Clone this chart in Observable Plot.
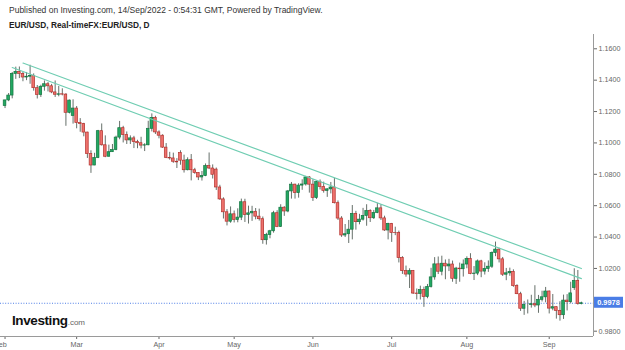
<!DOCTYPE html>
<html>
<head>
<meta charset="utf-8">
<script src="https://cdn.jsdelivr.net/npm/d3@7"></script>
<script src="https://cdn.jsdelivr.net/npm/@observablehq/plot@0.6"></script>
<style>
  body { margin: 0; background: #fff; font-family: "Liberation Sans", Arial, sans-serif; }
  #wrap { position: relative; width: 625px; height: 350px; overflow: hidden; background: #fff; }
  #pub { position: absolute; left: 9px; top: 6px; font-size: 8.5px; line-height: 1; color: #333; white-space: nowrap; }
  #sym { position: absolute; left: 9px; top: 21px; font-size: 8.3px; line-height: 1; font-weight: bold; color: #222; white-space: nowrap; }
  #chart { position: absolute; left: 0; top: 34px; }
  #logo { position: absolute; left: 12px; top: 312px; line-height: 1; white-space: nowrap; }
  #logo .brand { font-size: 13.5px; font-weight: bold; color: #111; letter-spacing: -0.4px; }
  #logo .dom { font-size: 8px; color: #666; }
</style>
</head>
<body>
<div id="wrap">
  <div id="pub">Published on Investing.com, 14/Sep/2022 - 0:54:31 GMT, Powered by TradingView.</div>
  <div id="sym">EUR/USD, Real-timeFX:EUR/USD, D</div>
  <div id="chart"></div>
  <div id="logo"><span class="brand">Investing</span><span class="dom">.com</span></div>
</div>
<script>
// Daily EUR/USD bars, 1 Feb 2022 – 14 Sep 2022 (weekdays only)
const opens = [
  // Feb
  1.1235,1.1271,1.1302,1.1440,1.1453,1.1440,1.1417,1.1422,1.1427,1.1349,1.1306,1.1358,1.1374,1.1361,1.1322,1.1307,1.1310,1.1308,1.1192,1.1172,
  // Mar
  1.1219,1.1127,1.1120,1.1066,1.0929,1.0856,1.0904,1.1075,1.0985,1.0912,1.0941,1.0955,1.1034,1.1094,1.1050,1.1016,1.1029,1.1005,1.0998,1.0983,1.0985,1.1090,1.1159,
  // Apr
  1.1067,1.1046,1.0970,1.0905,1.0901,1.0880,1.0935,1.0887,1.0826,1.0890,1.0826,1.0808,1.0780,1.0789,1.0852,1.0837,1.0830,1.0716,1.0640,1.0558,1.0498,
  // May
  1.0545,1.0509,1.0524,1.0622,1.0541,1.0551,1.0561,1.0530,1.0514,1.0380,1.0413,1.0437,1.0552,1.0465,1.0587,1.0563,1.0691,1.0734,1.0680,1.0728,1.0735,1.0780,
  // Jun
  1.0734,1.0649,1.0751,1.0719,1.0694,1.0704,1.0716,1.0616,1.0518,1.0410,1.0418,1.0447,1.0548,1.0495,1.0511,1.0535,1.0566,1.0520,1.0554,1.0583,1.0519,1.0442,
  // Jul
  1.0484,1.0426,1.0425,1.0266,1.0183,1.0161,1.0183,1.0040,1.0037,1.0062,1.0018,1.0082,1.0143,1.0226,1.0179,1.0230,1.0213,1.0225,1.0134,1.0199,1.0195,
  // Aug
  1.0225,1.0260,1.0165,1.0167,1.0245,1.0180,1.0197,1.0211,1.0298,1.0320,1.0258,1.0160,1.0169,1.0178,1.0088,1.0036,0.9943,0.9967,0.9967,0.9972,0.9964,1.0000,1.0016,
  // Sep
  1.0053,0.9944,0.9953,0.9929,0.9902,0.9995,0.9985,1.0075,1.0121,0.9973
];
const highs = [
  1.1272,1.1315,1.1449,1.1483,1.1484,1.1449,1.1449,1.1495,1.1440,1.1366,1.1368,1.1395,1.1385,1.1373,1.1395,1.1360,1.1345,1.1314,1.1273,1.1275,
  1.1232,1.1155,1.1125,1.1068,1.0950,1.0934,1.1080,1.1121,1.1045,1.0986,1.0990,1.1043,1.1137,1.1106,1.1070,1.1045,1.1042,1.1017,1.1036,1.0995,1.1138,1.1185,1.1170,
  1.1077,1.1052,1.0996,1.0940,1.0935,1.0900,1.0950,1.0922,1.0905,1.0926,1.0838,1.0809,1.0818,1.0866,1.0936,1.0860,1.0840,1.0730,1.0650,1.0575,1.0592,
  1.0566,1.0580,1.0642,1.0641,1.0597,1.0596,1.0582,1.0578,1.0528,1.0424,1.0443,1.0564,1.0568,1.0606,1.0594,1.0697,1.0748,1.0737,1.0740,1.0765,1.0787,1.0786,
  1.0765,1.0755,1.0764,1.0750,1.0708,1.0748,1.0774,1.0630,1.0530,1.0480,1.0506,1.0601,1.0564,1.0545,1.0583,1.0606,1.0574,1.0570,1.0615,1.0606,1.0533,1.0488,
  1.0487,1.0463,1.0438,1.0275,1.0215,1.0198,1.0187,1.0069,1.0087,1.0081,1.0098,1.0201,1.0269,1.0273,1.0278,1.0254,1.0258,1.0247,1.0207,1.0234,1.0254,
  1.0274,1.0294,1.0212,1.0254,1.0252,1.0236,1.0248,1.0305,1.0368,1.0329,1.0270,1.0200,1.0202,1.0191,1.0096,1.0048,0.9990,0.9999,1.0029,1.0090,1.0028,1.0055,1.0079,
  1.0056,1.0034,0.9955,0.9988,1.0030,1.0033,1.0112,1.0198,1.0187,0.9985
];
const lows = [
  1.1219,1.1263,1.1281,1.1405,1.1410,1.1390,1.1397,1.1374,1.1330,1.1280,1.1290,1.1330,1.1325,1.1314,1.1290,1.1294,1.1300,1.1106,1.1185,1.1120,
  1.1090,1.1068,1.1039,1.0901,1.0806,1.0855,1.0900,1.0980,1.0906,1.0910,1.0940,1.0950,1.1020,1.1000,1.0990,1.0990,1.0964,1.0963,1.0962,1.0945,1.0982,1.1070,1.1054,
  1.1026,1.0965,1.0900,1.0890,1.0870,1.0837,1.0858,1.0808,1.0822,1.0758,1.0800,1.0760,1.0757,1.0785,1.0830,1.0770,1.0697,1.0634,1.0515,1.0471,1.0488,
  1.0490,1.0491,1.0505,1.0493,1.0483,1.0500,1.0510,1.0502,1.0354,1.0349,1.0389,1.0425,1.0460,1.0461,1.0532,1.0555,1.0642,1.0642,1.0648,1.0698,1.0725,1.0680,
  1.0627,1.0640,1.0700,1.0680,1.0653,1.0675,1.0611,1.0506,1.0398,1.0397,1.0359,1.0382,1.0444,1.0478,1.0502,1.0469,1.0493,1.0512,1.0549,1.0506,1.0436,1.0382,
  1.0366,1.0409,1.0235,1.0162,1.0144,1.0072,1.0034,0.9999,0.9999,0.9952,1.0007,1.0075,1.0125,1.0161,1.0153,1.0128,1.0180,1.0112,1.0098,1.0112,1.0145,
  1.0198,1.0160,1.0123,1.0154,1.0141,1.0158,1.0175,1.0200,1.0275,1.0235,1.0149,1.0122,1.0150,1.0080,1.0033,0.9926,0.9901,0.9910,0.9947,0.9950,0.9914,0.9986,0.9981,
  0.9910,0.9930,0.9877,0.9864,0.9875,0.9929,0.9975,1.0060,0.9966,0.9968
];
const closes = [
  1.1271,1.1302,1.1440,1.1453,1.1440,1.1417,1.1422,1.1427,1.1349,1.1306,1.1358,1.1374,1.1361,1.1322,1.1307,1.1310,1.1308,1.1192,1.1270,1.1219,
  1.1127,1.1120,1.1066,1.0929,1.0856,1.0904,1.1075,1.0985,1.0912,1.0941,1.0955,1.1034,1.1094,1.1050,1.1016,1.1029,1.1005,1.0998,1.0983,1.0985,1.1090,1.1159,1.1067,
  1.1046,1.0970,1.0905,1.0901,1.0880,1.0876,1.0887,1.0826,1.0890,1.0826,1.0808,1.0780,1.0789,1.0852,1.0837,1.0797,1.0716,1.0640,1.0558,1.0498,1.0545,
  1.0509,1.0524,1.0622,1.0541,1.0551,1.0561,1.0530,1.0514,1.0380,1.0413,1.0437,1.0552,1.0465,1.0587,1.0563,1.0691,1.0734,1.0680,1.0728,1.0735,1.0780,1.0734,
  1.0649,1.0751,1.0719,1.0694,1.0704,1.0716,1.0616,1.0518,1.0410,1.0418,1.0447,1.0548,1.0495,1.0511,1.0535,1.0566,1.0520,1.0554,1.0583,1.0519,1.0442,1.0484,
  1.0426,1.0425,1.0266,1.0183,1.0161,1.0183,1.0040,1.0037,1.0062,1.0018,1.0082,1.0143,1.0226,1.0179,1.0230,1.0213,1.0225,1.0134,1.0199,1.0195,1.0225,
  1.0260,1.0165,1.0167,1.0245,1.0180,1.0197,1.0211,1.0298,1.0320,1.0258,1.0160,1.0169,1.0178,1.0088,1.0036,0.9943,0.9967,0.9967,0.9972,0.9964,1.0000,1.0016,1.0053,
  0.9944,0.9953,0.9929,0.9902,0.9995,0.9985,1.0041,1.0121,0.9973,0.9978
];

// Price axis ticks
const priceTicks = [0.98, 1.00, 1.02, 1.04, 1.06, 1.08, 1.10, 1.12, 1.14, 1.16];

// Two descending trend lines, anchored on bar index and price
const upperTrend = [{bar: 5, price: 1.1509}, {bar: 161, price: 1.0199}];
const lowerTrend = [{bar: 2, price: 1.1481}, {bar: 161, price: 1.0135}];

// Visible price window and bar window of the plotting area
const priceWindow = [0.97662, 1.16911];
const barWindow = [-1.27, 164.37];

// Weekday calendar for the bars
const firstDay = new Date(Date.UTC(2022, 1, 1));
const dates = [];
for (let d = new Date(firstDay); dates.length < closes.length; d = new Date(d.getTime() + 864e5)) {
  const wd = d.getUTCDay();
  if (wd !== 0 && wd !== 6) dates.push(d);
}
const bars = closes.map((c, i) => ({bar: i, date: dates[i], open: opens[i], high: highs[i], low: lows[i], close: c}));
const monthStarts = bars.filter((b, i) => i === 0 || b.date.getUTCMonth() !== bars[i - 1].date.getUTCMonth()).map(b => b.bar);
const monthName = d3.utcFormat("%b");

const upBars = bars.filter(b => b.close >= b.open);
const downBars = bars.filter(b => b.close < b.open);
const last = bars[bars.length - 1];

const halfBody = 0.37;

const plot = Plot.plot({
  width: 625,
  height: 316,
  marginLeft: 0,
  marginRight: 32,
  marginTop: 0,
  marginBottom: 14,
  style: {fontFamily: "'Liberation Sans', Arial, sans-serif", fontSize: "7.2px", color: "#666", background: "#fff", overflow: "visible"},
  x: {type: "linear", domain: barWindow, ticks: monthStarts, tickFormat: i => monthName(dates[i]), tickSize: 3, tickPadding: 2, label: null},
  y: {domain: priceWindow, axis: "right", ticks: priceTicks, tickFormat: d3.format(".4f"), tickSize: 3, tickPadding: 2, label: null},
  marks: [
    Plot.ruleY([priceWindow[0]], {stroke: "#9a9a9a", strokeWidth: 1}),
    Plot.ruleX([barWindow[1]], {stroke: "#9a9a9a", strokeWidth: 1}),
    Plot.ruleY([last.close], {stroke: "#4f7fe6", strokeWidth: 1, strokeDasharray: "1,1.6"}),
    Plot.ruleX(bars, {x: "bar", y1: "low", y2: "high", stroke: "#66706a", strokeWidth: 1}),
    Plot.rect(upBars, {x1: d => d.bar - halfBody, x2: d => d.bar + halfBody, y1: "open", y2: "close", fill: "#22a862", stroke: "#137540", strokeWidth: 0.7}),
    Plot.rect(downBars, {x1: d => d.bar - halfBody, x2: d => d.bar + halfBody, y1: "open", y2: "close", fill: "#ee716c", stroke: "#b3312d", strokeWidth: 0.7}),
    Plot.line(upperTrend, {x: "bar", y: "price", stroke: "#6fcdb2", strokeWidth: 1.1}),
    Plot.line(lowerTrend, {x: "bar", y: "price", stroke: "#6fcdb2", strokeWidth: 1.1})
  ]
});

// The first month label sits against the left edge and is partly cut off
d3.select(plot).selectAll("text")
  .filter(function() { return this.textContent === monthName(dates[0]); })
  .attr("dx", -4.5);

// Last-price tag on the price axis
const ys = plot.scale("y"), xs = plot.scale("x");
const tagY = ys.apply(last.close);
const tagX = xs.apply(barWindow[1]) + 1;
const tag = d3.select(plot).append("g");
tag.append("rect").attr("x", tagX).attr("y", tagY - 6).attr("width", 29).attr("height", 11).attr("fill", "#4a7de6");
tag.append("text").attr("x", tagX + 14.5).attr("y", tagY + 2.6).attr("text-anchor", "middle")
  .attr("fill", "#fff").attr("font-size", "7.4px").attr("font-weight", "bold").text(d3.format(".4f")(last.close));

document.getElementById("chart").appendChild(plot);
</script>
</body>
</html>
